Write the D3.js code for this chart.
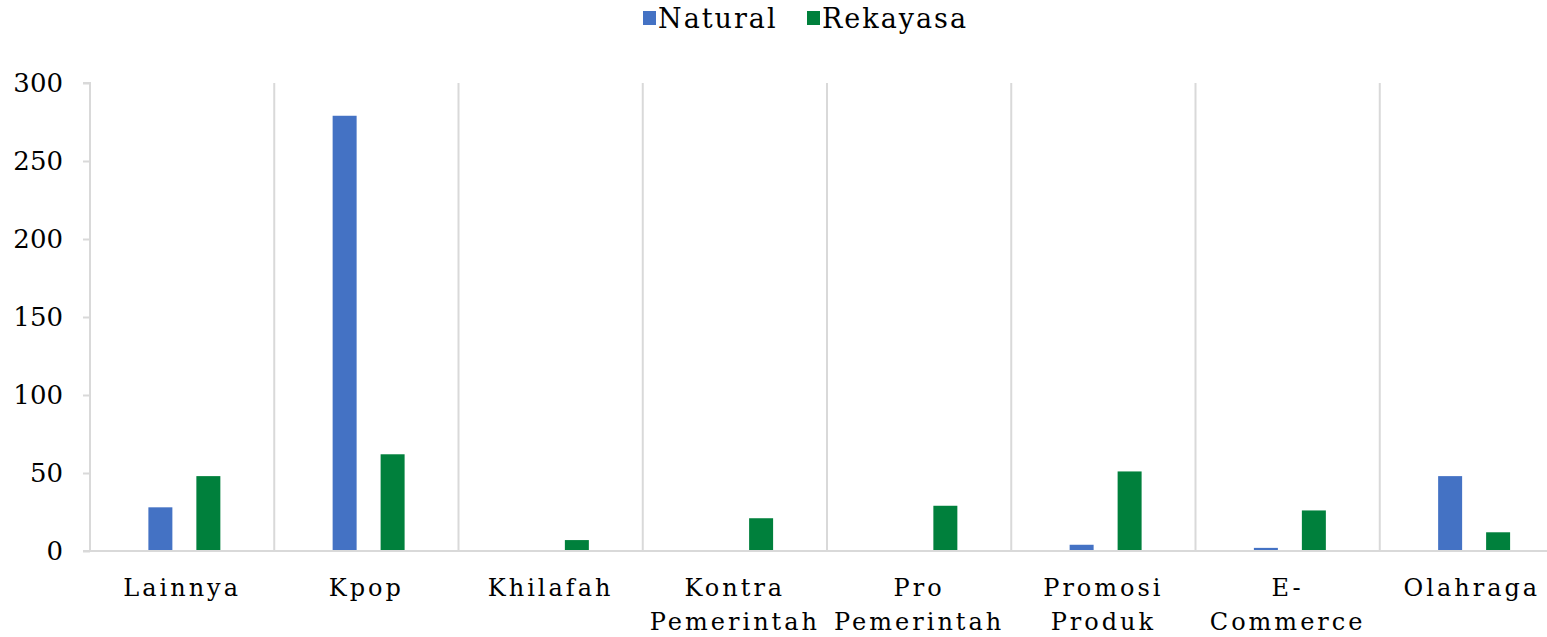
<!DOCTYPE html>
<html>
<head>
<meta charset="utf-8">
<script src="https://cdn.jsdelivr.net/npm/d3@7"></script>
<style>
  body { margin: 0; background: #fff; }
  text { font-family: "Palatino Linotype", "Book Antiqua", Palatino, "DejaVu Serif", serif; fill: #000; }
</style>
</head>
<body>
<script>
// chart data
var categories = ['Lainnya', 'Kpop', 'Khilafah', 'Kontra Pemerintah', 'Pro Pemerintah', 'Promosi Produk', 'E- Commerce', 'Olahraga'];
var natural = [28, 279, 0, 0, 0, 4, 2, 48];
var rekayasa = [48, 62, 7, 21, 29, 51, 26, 12];
var seriesNames = ['Natural', 'Rekayasa'];
var seriesColors = ['#4472c4', '#00803c'];
var yTicks = [0, 50, 100, 150, 200, 250, 300];

(function(){
  var width = 1547, height = 637;
  var plotL = 90, plotR = 1564, plotT = 83, plotB = 551;
  var fontFam = '"Palatino Linotype", "Book Antiqua", Palatino, "DejaVu Serif", serif';

  var svg = d3.select('body').append('svg')
    .attr('width', width)
    .attr('height', height);

  var x = d3.scaleBand().domain(categories).range([plotL, plotR]);
  // bar width equals the gap between the two bars
  var xs = d3.scaleBand().domain(seriesNames).range([0, x.bandwidth()])
    .paddingInner(0.5).paddingOuter(1.17).align(0.52);
  var y = d3.scaleLinear().domain([0, 300]).range([plotB, plotT]);

  // vertical separators between categories
  svg.append('g').selectAll('line')
    .data(categories.slice(1))
    .enter().append('line')
    .attr('x1', function(d){ return x(d); })
    .attr('x2', function(d){ return x(d); })
    .attr('y1', plotT)
    .attr('y2', plotB)
    .attr('stroke', '#d9d9d9')
    .attr('stroke-width', 2);

  // y axis
  var yAxis = svg.append('g')
    .attr('transform', 'translate(' + plotL + ',0)')
    .call(d3.axisLeft(y).tickValues(yTicks).tickSize(7).tickPadding(20));
  yAxis.select('.domain').attr('stroke', '#d9d9d9').attr('stroke-width', 2).attr('d', 'M-7,' + plotT + 'H0V' + plotB);
  yAxis.selectAll('.tick line').attr('stroke', '#d9d9d9').attr('stroke-width', 2);
  yAxis.selectAll('.tick text')
    .style('font-size', '26px')
    .style('font-family', fontFam)
    .attr('fill', '#000');

  // bars
  var rows = categories.map(function(c, i){ return { cat: c, values: [natural[i], rekayasa[i]] }; });
  var groups = svg.append('g').selectAll('g')
    .data(rows)
    .enter().append('g')
    .attr('transform', function(d){ return 'translate(' + x(d.cat) + ',0)'; });
  groups.selectAll('rect')
    .data(function(d){ return d.values.map(function(v, j){ return { s: seriesNames[j], v: v, c: seriesColors[j] }; }); })
    .enter().append('rect')
    .attr('x', function(d){ return xs(d.s); })
    .attr('width', xs.bandwidth())
    .attr('y', function(d){ return y(d.v); })
    .attr('height', function(d){ return y(0) - y(d.v); })
    .attr('fill', function(d){ return d.c; });

  // baseline
  svg.append('line')
    .attr('x1', plotL - 7).attr('x2', width)
    .attr('y1', y(0)).attr('y2', y(0))
    .attr('stroke', '#d9d9d9').attr('stroke-width', 2);

  // category labels, wrapped on spaces
  var labels = svg.append('g').selectAll('text')
    .data(categories)
    .enter().append('text')
    .attr('text-anchor', 'middle')
    .attr('y', 596)
    .style('font-size', '24px')
    .style('letter-spacing', '3px');
  labels.each(function(d){
    var t = d3.select(this);
    var cx = x(d) + x.bandwidth() / 2;
    d.split(' ').forEach(function(w, i){
      t.append('tspan').attr('x', cx).attr('dy', i ? 34 : 0).text(w);
    });
  });

  // legend
  var legendX = [643, 807];
  var legend = svg.append('g').selectAll('g')
    .data(seriesNames)
    .enter().append('g')
    .attr('transform', function(d, i){ return 'translate(' + legendX[i] + ',0)'; });
  legend.append('rect')
    .attr('x', 0).attr('y', 11).attr('width', 13).attr('height', 14)
    .attr('fill', function(d, i){ return seriesColors[i]; });
  legend.append('text')
    .attr('x', 15).attr('y', 28)
    .style('font-size', '27px')
    .style('letter-spacing', '2px')
    .text(function(d){ return d; });
})();
</script>
</body>
</html>
